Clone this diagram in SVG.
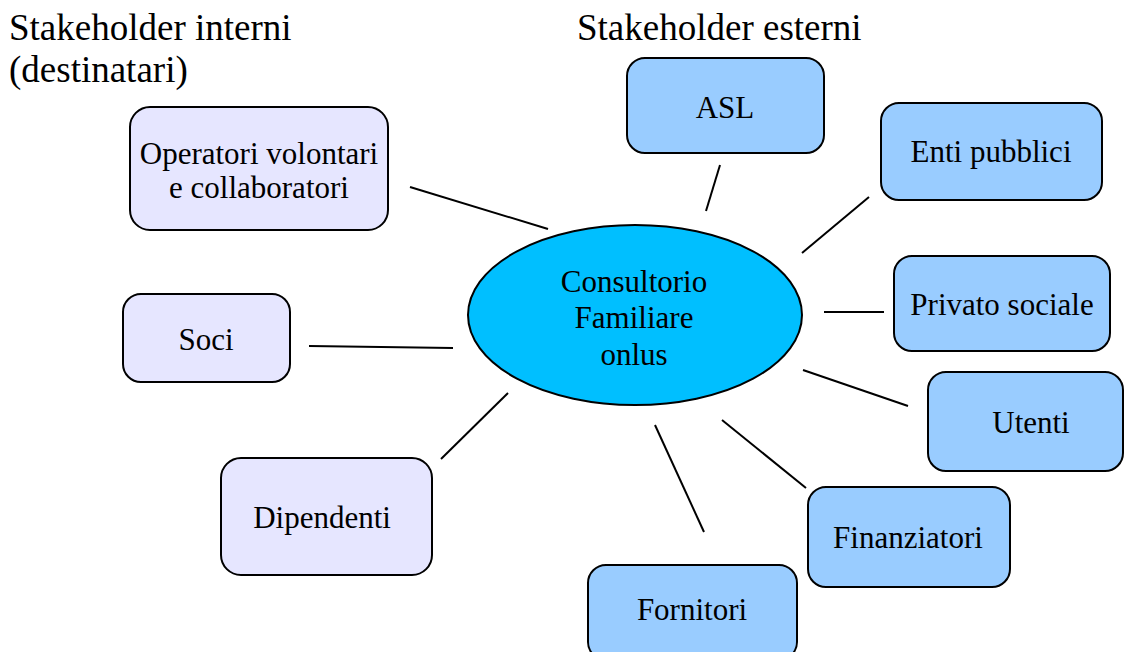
<svg xmlns="http://www.w3.org/2000/svg" width="1124" height="652" viewBox="0 0 1124 652">
<style>
text{font-family:'Liberation Serif','Times New Roman',serif;fill:#000}
.t{font-size:37px}
.n{font-size:31px;text-anchor:middle}
.int{fill:#E6E6FF;stroke:#000;stroke-width:2}
.ext{fill:#99CCFF;stroke:#000;stroke-width:2}
.c line{stroke:#000;stroke-width:2}
</style>
<rect width="1124" height="652" fill="#fff"/>
<text class="t" x="9" y="40">Stakeholder interni</text>
<text class="t" x="9" y="82">(destinatari)</text>
<text class="t" x="577" y="40">Stakeholder esterni</text>
<g class="c" id="connectors">
<line x1="410" y1="187" x2="548" y2="229"/>
<line x1="309" y1="346" x2="453" y2="348"/>
<line x1="441" y1="459" x2="508" y2="393"/>
<line x1="720" y1="165" x2="706" y2="211"/>
<line x1="869" y1="197" x2="802" y2="253"/>
<line x1="824" y1="312" x2="884" y2="312"/>
<line x1="803" y1="370" x2="908" y2="406"/>
<line x1="722" y1="420" x2="806" y2="488"/>
<line x1="655" y1="425" x2="704" y2="532"/>
</g>
<g id="center">
<ellipse cx="635" cy="315" rx="167" ry="90" fill="#00BFFF" stroke="#000" stroke-width="2"/>
<text class="n" x="634" y="292">Consultorio</text>
<text class="n" x="634" y="328">Familiare</text>
<text class="n" x="634" y="365">onlus</text>
</g>
<g id="operatori"><rect class="int" x="130" y="107" width="258" height="123" rx="20"/><text class="n" x="259" y="164">Operatori volontari</text><text class="n" x="259" y="198">e collaboratori</text></g>
<g id="soci"><rect class="int" x="123" y="294" width="167" height="88" rx="18"/><text class="n" x="206" y="350">Soci</text></g>
<g id="dipendenti"><rect class="int" x="221" y="458" width="211" height="117" rx="20"/><text class="n" x="322" y="528">Dipendenti</text></g>
<g id="asl"><rect class="ext" x="627" y="58" width="197" height="95" rx="18"/><text class="n" x="725" y="118">ASL</text></g>
<g id="enti"><rect class="ext" x="881" y="103" width="221" height="97" rx="18"/><text class="n" x="991" y="162">Enti pubblici</text></g>
<g id="privato"><rect class="ext" x="894" y="256" width="216" height="95" rx="18"/><text class="n" x="1002" y="315">Privato sociale</text></g>
<g id="utenti"><rect class="ext" x="928" y="372" width="195" height="99" rx="18"/><text class="n" x="1031" y="433">Utenti</text></g>
<g id="finanziatori"><rect class="ext" x="808" y="487" width="202" height="100" rx="18"/><text class="n" x="908" y="548">Finanziatori</text></g>
<g id="fornitori"><rect class="ext" x="588" y="565" width="209" height="95" rx="18"/><text class="n" x="692" y="620">Fornitori</text></g>
</svg>
